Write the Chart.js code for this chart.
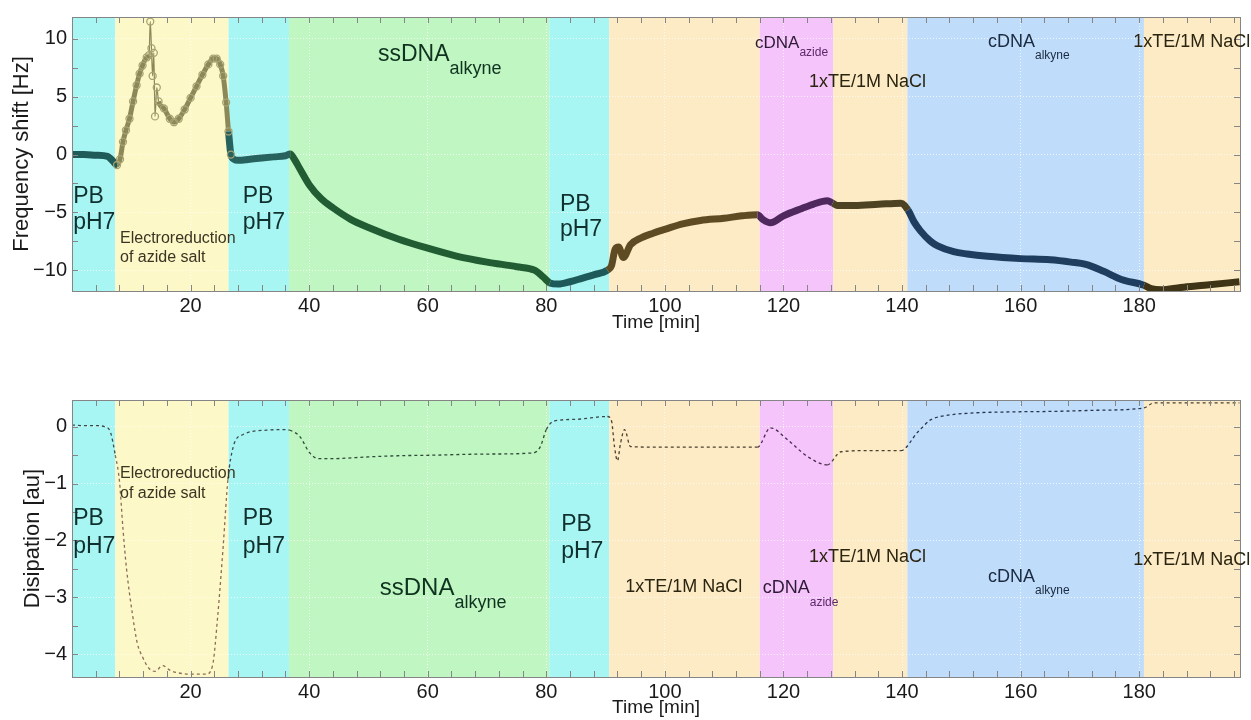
<!DOCTYPE html>
<html>
<head>
<meta charset="utf-8">
<script src="https://cdn.jsdelivr.net/npm/chart.js@4.4.0/dist/chart.umd.min.js"></script>
<style>
  body { margin: 0; background: #fff; width: 1251px; height: 720px; overflow: hidden; position: relative; }
  .box { position: absolute; left: 0; width: 1251px; }
</style>
</head>
<body>
<div class="box" style="top:0;height:336px"><canvas id="freqChart"></canvas></div>
<div class="box" style="top:336px;height:384px"><canvas id="dissChart"></canvas></div>
<script>
// phases of the experiment (start time in min)
var phaseStarts = [0, 7.3, 26.4, 36.6, 80.5, 90.6, 116.0, 128.4, 140.9, 180.8];
var timeMax = 197;

// tick labels
var timeTicks = [20, 40, 60, 80, 100, 120, 140, 160, 180];
var freqTicks = [-10, -5, 0, 5, 10];
var dissTicks = [-4, -3, -2, -1, 0];

// frequency shift [Hz]
var freqTime = [0, 2, 4, 6, 6.8, 7.6, 8.1, 8.6, 9.1, 9.7, 10.3, 10.9, 11.4, 11.9, 12.6, 13.0, 13.2, 13.4, 13.6, 13.8,
  14.0, 14.3, 14.6, 15.5, 16.5, 17.2, 18, 19, 20, 21, 22, 23, 23.8, 24.4, 25.0, 25.5, 26.0, 26.4, 26.8, 27.3, 28,
  30, 32, 34, 36, 36.8, 37.5, 38.4, 40, 42, 44, 47, 50, 55, 60, 65, 70, 75, 78, 79.5, 80.6, 82, 84, 86, 88, 90.3,
  91, 91.6, 92.2, 93, 94.2, 96, 98, 100.4, 103, 106, 110, 113, 115.6, 116.5, 117.8, 120, 122.9, 125, 127.4, 128.3,
  129.1, 132, 136, 139.8, 141, 142, 143.1, 144.8, 146, 148.7, 151, 154.4, 160, 165, 168.5, 171, 174, 177,
  180.8, 182, 183.7, 187, 191, 196.9];
var freqShift = [0.0, 0.0, -0.05, -0.15, -0.5, -0.9, -0.4, 1.1, 2.1, 3.1, 4.6, 6.0, 7.0, 7.7, 8.4, 8.6, 11.5, 9.2,
  6.8, 8.8, 3.3, 5.8, 4.6, 4.0, 3.1, 2.8, 3.1, 3.9, 4.9, 5.9, 6.9, 7.8, 8.3, 8.3, 7.8, 6.8, 4.5, 2.0, 0.0, -0.4,
  -0.5, -0.4, -0.3, -0.2, -0.1, 0.05, -0.4, -1.2, -2.6, -3.8, -4.6, -5.6, -6.3, -7.3, -8.1, -8.8, -9.3, -9.7,
  -10.0, -10.6, -11.1, -11.2, -11.0, -10.7, -10.4, -10.0, -9.6, -8.2, -8.0, -8.9, -7.8, -7.2, -6.8, -6.4, -6.0,
  -5.7, -5.5, -5.3, -5.2, -5.6, -5.9, -5.3, -4.7, -4.3, -4.0, -4.2, -4.4, -4.4, -4.3, -4.2, -4.8, -5.8, -6.6,
  -7.5, -7.9, -8.4, -8.6, -8.8, -9.0, -9.1, -9.3, -9.5, -10.1, -10.8, -11.3, -11.6, -11.7, -11.5, -11.3, -11.0];

// dissipation [au]
var dissTime = [0, 2, 4, 5.5, 6.5, 7.3, 8.0, 8.6, 9.2, 10.2, 11, 11.9, 13, 14, 15.3, 16.5, 17.6, 20, 22.6, 23.7,
  24.6, 25.5, 26.3, 27.2, 28.8, 32.8, 36, 36.7, 38.4, 40.1, 41.5, 44, 50, 55, 60.9, 70, 77.8, 79, 80, 81.3, 85,
  90.3, 91, 91.5, 92, 92.5, 93.2, 94.2, 100.4, 108, 115.6, 117.8, 120.7, 124, 127.4, 129.7, 134.2, 139.8, 142.6,
  144.8, 146.5, 151.6, 158, 165.6, 173, 180.8, 182.5, 190, 196.9];
var dissValue = [0.03, 0.02, 0.02, 0.0, -0.1, -0.5, -0.95, -1.8, -2.5, -3.3, -3.8, -4.05, -4.25, -4.3, -4.2,
  -4.28, -4.32, -4.35, -4.35, -4.2, -3.3, -2.1, -0.93, -0.35, -0.14, -0.06, -0.05, -0.06, -0.17, -0.46, -0.56,
  -0.56, -0.53, -0.51, -0.5, -0.48, -0.46, -0.35, -0.05, 0.1, 0.13, 0.18, 0.1, -0.35, -0.6, -0.3, -0.05, -0.35,
  -0.36, -0.36, -0.36, -0.02, -0.23, -0.52, -0.67, -0.44, -0.42, -0.42, -0.1, 0.12, 0.18, 0.24, 0.26, 0.27,
  0.29, 0.33, 0.42, 0.42, 0.42];

// styles
var FONT = '"Liberation Sans", Arial, Helvetica, sans-serif';
var bandColors = ['#a8f6f4', '#fdf8c8', '#a8f6f4', '#bff6c2', '#a8f6f4', '#fdebc5', '#f4c4fa', '#fdebc5', '#c0dcfb', '#fdebc5'];
var curveColors = ['#1f5b58', '#8c8858', '#28625f', '#215c33', '#1e5a5a', '#5e4b24', '#4f285e', '#4d4322', '#1f3d5e', '#3f3415'];
var dashColors = ['#3a4a4a', '#8a6c58', '#3a4a4a', '#2f4a38', '#3a4a4a', '#4a4030', '#4a2a50', '#4a4030', '#24344a', '#4a4030'];

var freqNotes = [
  { x: 0.2, y: -3.6, text: 'PB', size: 23, color: '#10302e' },
  { x: 0.2, y: -5.9, text: 'pH7', size: 23, color: '#10302e' },
  { x: 8.1, y: -7.3, text: 'Electroreduction', size: 16, color: '#3a3522' },
  { x: 8.1, y: -8.9, text: 'of azide salt', size: 16, color: '#3a3522' },
  { x: 28.8, y: -3.6, text: 'PB', size: 23, color: '#10302e' },
  { x: 28.8, y: -5.9, text: 'pH7', size: 23, color: '#10302e' },
  { x: 51.6, y: 8.6, text: 'ssDNA', sub: 'alkyne', size: 23, subSize: 18, subDy: 14, color: '#10331f' },
  { x: 82.3, y: -4.3, text: 'PB', size: 23, color: '#10302e' },
  { x: 82.3, y: -6.5, text: 'pH7', size: 23, color: '#10302e' },
  { x: 115.2, y: 9.6, text: 'cDNA', sub: 'azide', size: 17, subSize: 12, subDy: 9, color: '#2e1a36', subColor: '#5a2a6a' },
  { x: 124.3, y: 6.3, text: '1xTE/1M NaCl', size: 18, color: '#2a2410' },
  { x: 154.5, y: 9.7, text: 'cDNA', sub: 'alkyne', size: 18, subSize: 12, subDy: 13, color: '#1a2a40' },
  { x: 179.0, y: 9.7, text: '1xTE/1M NaCl', size: 18, color: '#2a2410' }
];
var dissNotes = [
  { x: 0.2, y: -1.62, text: 'PB', size: 23, color: '#10302e' },
  { x: 0.2, y: -2.1, text: 'pH7', size: 23, color: '#10302e' },
  { x: 8.1, y: -0.83, text: 'Electroreduction', size: 16, color: '#3a3522' },
  { x: 8.1, y: -1.18, text: 'of azide salt', size: 16, color: '#3a3522' },
  { x: 28.8, y: -1.62, text: 'PB', size: 23, color: '#10302e' },
  { x: 28.8, y: -2.1, text: 'pH7', size: 23, color: '#10302e' },
  { x: 51.9, y: -2.84, text: 'ssDNA', sub: 'alkyne', size: 24, subSize: 18, subDy: 15, color: '#10331f' },
  { x: 82.5, y: -1.72, text: 'PB', size: 23, color: '#10302e' },
  { x: 82.5, y: -2.2, text: 'pH7', size: 23, color: '#10302e' },
  { x: 93.3, y: -2.82, text: '1xTE/1M NaCl', size: 18, color: '#2a2410' },
  { x: 116.5, y: -2.84, text: 'cDNA', sub: 'azide', size: 18, subSize: 12, subDy: 14, color: '#2e1a36', subColor: '#5a2a6a' },
  { x: 124.3, y: -2.29, text: '1xTE/1M NaCl', size: 18, color: '#2a2410' },
  { x: 154.5, y: -2.65, text: 'cDNA', sub: 'alkyne', size: 18, subSize: 12, subDy: 13, color: '#1a2a40' },
  { x: 179.0, y: -2.35, text: '1xTE/1M NaCl', size: 18, color: '#2a2410' }
];

function phaseIndex(t) {
  var i = 0;
  while (i + 1 < phaseStarts.length && t >= phaseStarts[i + 1]) i++;
  return i;
}

function toPoints(xs, ys) {
  return xs.map(function (t, i) { return { x: t, y: ys[i] }; });
}

function minus(v) { return String(v).replace('-', '\u2212'); }

// coloured phase bands behind everything
var bandPlugin = {
  id: 'bands',
  beforeDraw: function (chart) {
    var ctx = chart.ctx, a = chart.chartArea, x = chart.scales.x;
    ctx.save();
    for (var i = 0; i < phaseStarts.length; i++) {
      var x0 = x.getPixelForValue(phaseStarts[i]);
      var x1 = x.getPixelForValue(i + 1 < phaseStarts.length ? phaseStarts[i + 1] : timeMax);
      ctx.fillStyle = bandColors[i];
      ctx.fillRect(x0, a.top, x1 - x0, a.bottom - a.top);
    }
    ctx.restore();
  }
};

// box with inward ticks (matlab look) and the text notes
var framePlugin = {
  id: 'frame',
  afterDraw: function (chart, args, opts) {
    var ctx = chart.ctx, a = chart.chartArea, x = chart.scales.x, y = chart.scales.y;
    ctx.save();
    ctx.strokeStyle = '#858585';
    ctx.lineWidth = 1;
    ctx.beginPath();
    var n, px, py;
    for (n = 1; n * 4 < timeMax; n++) {
      px = Math.round(x.getPixelForValue(n * 4)) + 0.5;
      ctx.moveTo(px, a.bottom); ctx.lineTo(px, a.bottom - 6);
      ctx.moveTo(px, a.top); ctx.lineTo(px, a.top + 6);
    }
    for (n = Math.ceil(y.min / opts.yMinor); n * opts.yMinor <= y.max; n++) {
      py = Math.round(y.getPixelForValue(n * opts.yMinor)) + 0.5;
      ctx.moveTo(a.left, py); ctx.lineTo(a.left + 6, py);
      ctx.moveTo(a.right, py); ctx.lineTo(a.right - 6, py);
    }
    ctx.stroke();
    ctx.strokeRect(Math.round(a.left) + 0.5, Math.round(a.top) + 0.5, Math.round(a.right - a.left), Math.round(a.bottom - a.top));

    ctx.textBaseline = 'middle';
    ctx.textAlign = 'left';
    opts.notes.forEach(function (note) {
      var nx = x.getPixelForValue(note.x), ny = y.getPixelForValue(note.y);
      ctx.font = note.size + 'px ' + FONT;
      ctx.fillStyle = note.color;
      ctx.fillText(note.text, nx, ny);
      if (note.sub) {
        var w = ctx.measureText(note.text).width;
        ctx.font = note.subSize + 'px ' + FONT;
        ctx.fillStyle = note.subColor || note.color;
        ctx.fillText(note.sub, nx + w, ny + note.subDy);
      }
    });
    ctx.restore();
  }
};

Chart.defaults.font.family = FONT;
Chart.defaults.color = '#1a1a1a';

function timeAxis(axisHeight, titlePad) {
  return {
    type: 'linear', min: 0, max: timeMax,
    afterBuildTicks: function (s) { s.ticks = timeTicks.map(function (v) { return { value: v }; }); },
    afterFit: function (s) { s.height = axisHeight; },
    grid: { color: 'rgba(255,255,255,0.75)', drawTicks: false },
    border: { display: false, dash: [1, 2] },
    ticks: { font: { size: 20 }, padding: 3, maxRotation: 0, color: '#1a1a1a' },
    title: { display: true, text: 'Time [min]', font: { size: 19 }, padding: { top: 0, bottom: titlePad }, color: '#1a1a1a' }
  };
}

function valueAxis(min, max, ticks, title, titlePad) {
  return {
    type: 'linear', min: min, max: max,
    afterBuildTicks: function (s) { s.ticks = ticks.map(function (v) { return { value: v }; }); },
    afterFit: function (s) { s.width = 72; },
    grid: { color: 'rgba(255,255,255,0.75)', drawTicks: false },
    border: { display: false, dash: [1, 2] },
    ticks: { font: { size: 20 }, padding: 5, color: '#1a1a1a', callback: function (v) { return minus(v); } },
    title: { display: true, text: title, font: { size: 22 }, padding: { top: titlePad, bottom: 0 }, color: '#1a1a1a' }
  };
}

new Chart(document.getElementById('freqChart'), {
  type: 'line',
  data: {
    datasets: [{
      data: toPoints(freqTime, freqShift),
      borderWidth: 7,
      borderColor: curveColors[0],
      cubicInterpolationMode: 'monotone',
      segment: {
        borderColor: function (c) { return curveColors[phaseIndex((c.p0.parsed.x + c.p1.parsed.x) / 2)]; },
        borderWidth: function (c) {
          var m = (c.p0.parsed.x + c.p1.parsed.x) / 2;
          if (m > 12.9 && m < 14.5) return 1.2;
          return phaseIndex(m) === 1 ? 5 : 7;
        }
      },
      pointRadius: function (c) { var t = c.raw ? c.raw.x : 0; return (t > 7.5 && t < 27) ? 3.5 : 0; },
      pointBorderColor: '#a8a372',
      pointBackgroundColor: 'rgba(0,0,0,0)',
      pointBorderWidth: 1.3
    }]
  },
  options: {
    responsive: true,
    maintainAspectRatio: false,
    animation: false,
    layout: { padding: { top: 14, right: 11, left: 0, bottom: 0 } },
    scales: {
      x: timeAxis(45, 2),
      y: valueAxis(-11.8, 11.9, freqTicks, 'Frequency shift [Hz]', 9)
    },
    plugins: {
      legend: { display: false },
      tooltip: { enabled: false },
      frame: { yMinor: 2.5, notes: freqNotes }
    }
  },
  plugins: [bandPlugin, framePlugin]
});

new Chart(document.getElementById('dissChart'), {
  type: 'line',
  data: {
    datasets: [{
      data: toPoints(dissTime, dissValue),
      borderWidth: 1.3,
      borderDash: [3, 3],
      borderColor: dashColors[0],
      cubicInterpolationMode: 'monotone',
      segment: {
        borderColor: function (c) { return dashColors[phaseIndex((c.p0.parsed.x + c.p1.parsed.x) / 2)]; }
      },
      pointRadius: 0
    }]
  },
  options: {
    responsive: true,
    maintainAspectRatio: false,
    animation: false,
    layout: { padding: { top: 64, right: 11, left: 0, bottom: 0 } },
    scales: {
      x: timeAxis(43, 1),
      y: valueAxis(-4.4, 0.47, dissTicks, 'Disipation [au]', 20)
    },
    plugins: {
      legend: { display: false },
      tooltip: { enabled: false },
      frame: { yMinor: 0.5, notes: dissNotes }
    }
  },
  plugins: [bandPlugin, framePlugin]
});
</script>
</body>
</html>
